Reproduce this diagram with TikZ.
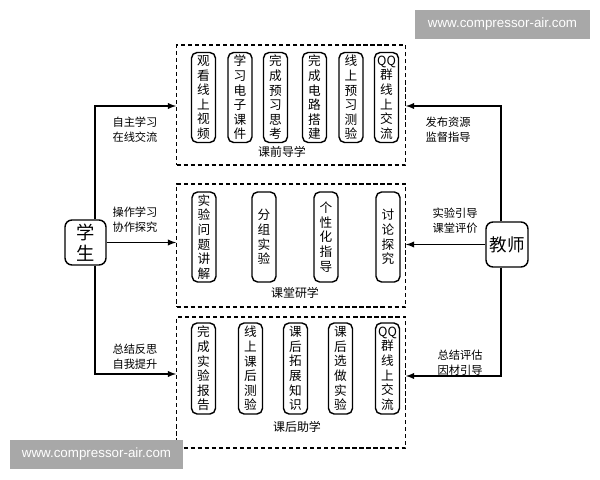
\documentclass[tikz,border=0pt]{standalone}
\usepackage{fontspec}
\setmainfont{Noto Sans CJK SC}
\newfontfamily\wmfont{Liberation Sans}

\begin{document}
\begin{tikzpicture}[x=0.025cm, y=-0.025cm,
	stepbox/.style={draw, line width=1pt, rounded corners=4pt, minimum width=0.6cm, minimum height=2.25cm, inner sep=0pt, align=center, font=\fontsize{9}{10.4}\selectfont},
	phase/.style={draw, line width=0.8pt, dash pattern=on 3pt off 2pt, minimum width=5.72cm, inner sep=0pt},
	title/.style={font=\fontsize{8.5}{10}\selectfont},
	role/.style={draw, line width=1pt, rounded corners=5pt, inner sep=0pt, align=center, minimum height=1.125cm},
	lab/.style={align=center, font=\fontsize{8}{10.6}\selectfont},
	arr/.style={-latex, line width=1pt},
	wm/.style={fill=black!34, text=white, inner sep=0pt, minimum height=0.725cm, font=\wmfont\fontsize{9.5}{11}\selectfont}]
	\useasboundingbox (0,0) rectangle (600,480);
	% pre-class
	\node[phase, minimum height=3cm] (pre) at (291,105) {};
	\node[title] (preT) at (282,152) {课前导学};
	\foreach \x/\t [count=\i] in {203.5/{观\\看\\线\\上\\视\\频}, 240/{学\\习\\电\\子\\课\\件}, 275.5/{完\\成\\预\\习\\思\\考}, 314.5/{完\\成\\电\\路\\搭\\建}, 351/{线\\上\\预\\习\\测\\验}, 386.5/{QQ\\群\\线\\上\\交\\流}}
		\node[stepbox] (pre\i) at (\x,97.5) {\t};
	% in class
	\node[phase, minimum height=3.075cm] (mid) at (291,245.5) {};
	\node[title] (midT) at (295,293) {课堂研学};
	\foreach \x/\t [count=\i] in {204/{实\\验\\问\\题\\讲\\解}, 264/{分\\组\\实\\验}, 326/{个\\性\\化\\指\\导}, 388/{讨\\论\\探\\究}}
		\node[stepbox] (mid\i) at (\x,237) {\t};
	% after class
	\node[phase, minimum height=3.275cm] (post) at (291,382.5) {};
	\node[title] (postT) at (297,427) {课后助学};
	\foreach \x/\t [count=\i] in {203.5/{完\\成\\实\\验\\报\\告}, 250.5/{线\\上\\课\\后\\测\\验}, 295.5/{课\\后\\拓\\展\\知\\识}, 340.5/{课\\后\\选\\做\\实\\验}, 387.5/{QQ\\群\\线\\上\\交\\流}}
		\node[stepbox, minimum height=2.275cm] (post\i) at (\x,368.5) {\t};
	% student
	\node[role, minimum width=1.025cm, font=\fontsize{13}{14.5}\selectfont] (stu) at (85.5,242.5) {学\\生};
	\coordinate (sa) at (95,106);
	\coordinate (sb) at (95,374);
	\draw[arr] (stu.north -| sa) -- (sa) -- (sa -| pre.west);
	\draw[arr] (stu.east) -- (stu.east -| mid.west);
	\draw[arr] (stu.south -| sb) -- (sb) -- (sb -| post.west);
	\node[lab] (sl1) at (135,129.5) {自主学习\\在线交流};
	\node[lab] (sl2) at (135,219.5) {操作学习\\协作探究};
	\node[lab] (sl3) at (135,357) {总结反思\\自我提升};
	% teacher
	\node[role, minimum width=1.05cm, font=\fontsize{12.5}{14}\selectfont] (tea) at (507,244.5) {教师};
	\coordinate (ta) at (501,106);
	\coordinate (tb) at (501,376);
	\draw[arr] (tea.north -| ta) -- (ta) -- (ta -| pre.east);
	\draw[arr] (tea.west) -- (tea.west -| mid.east);
	\draw[arr] (tea.south -| tb) -- (tb) -- (tb -| post.east);
	\node[lab] (tl1) at (448,129.5) {发布资源\\监督指导};
	\node[lab] (tl2) at (455,221) {实验引导\\课堂评价};
	\node[lab] (tl3) at (460,362.5) {总结评估\\因材引导};
	% watermarks
	\node[wm, minimum width=4.375cm] (wm1) at (502.5,24.5) {www.compressor-air.com};
	\node[wm, minimum width=4.325cm] (wm2) at (96.5,454.5) {www.compressor-air.com};
\end{tikzpicture}
\end{document}
